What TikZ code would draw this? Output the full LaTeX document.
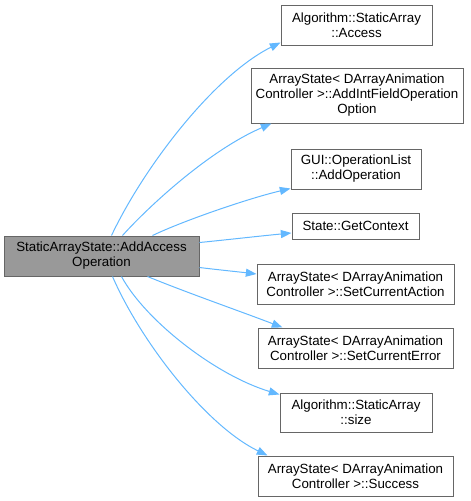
\documentclass[tikz,border=0pt]{standalone}
\usepackage{fontspec}
\setmainfont{Liberation Sans}
\usetikzlibrary{arrows.meta,calc}
\definecolor{edgeblue}{HTML}{63B8FF}
\definecolor{boxgray}{HTML}{666666}
\definecolor{mainfill}{HTML}{999999}
\begin{document}
\begin{tikzpicture}[x=0.75pt,y=-0.75pt,
  box/.style={draw=boxgray,fill=white,line width=0.75pt,align=center,inner sep=0pt,
    font=\fontsize{10}{11.25}\selectfont,text=black},
  mainbox/.style={box,fill=mainfill},
  edge/.style={draw=edgeblue,line width=0.75pt,-{Triangle[length=8pt,width=6pt]}}]
\useasboundingbox (0,0) rectangle (471,501);
\node[mainbox,minimum width=195*0.75pt,minimum height=40*0.75pt] (main) at (101.5,256) {StaticArrayState::AddAccess\\Operation};
\node[box,minimum width=151*0.75pt,minimum height=40*0.75pt] (b1) at (356.5,25) {Algorithm::StaticArray\\::Access};
\node[box,minimum width=212*0.75pt,minimum height=55*0.75pt] (b2) at (357,95.5) {ArrayState< DArrayAnimation\\Controller >::AddIntFieldOperation\\Option};
\node[box,minimum width=130*0.75pt,minimum height=40*0.75pt] (b3) at (356,169) {GUI::OperationList\\::AddOperation};
\node[box,minimum width=127*0.75pt,minimum height=26*0.75pt] (b4) at (355.5,226) {State::GetContext};
\node[box,minimum width=197*0.75pt,minimum height=40*0.75pt] (b5) at (355.5,284) {ArrayState< DArrayAnimation\\Controller >::SetCurrentAction};
\node[box,minimum width=195*0.75pt,minimum height=40*0.75pt] (b6) at (355.5,348) {ArrayState< DArrayAnimation\\Controller >::SetCurrentError};
\node[box,minimum width=152*0.75pt,minimum height=39*0.75pt] (b7) at (356,412.5) {Algorithm::StaticArray\\::size};
\node[box,minimum width=195*0.75pt,minimum height=40*0.75pt] (b8) at (355.5,476) {ArrayState< DArrayAnimation\\Controller >::Success};

\draw[edge] ($(main.north west)+(108,0)$) .. controls (145,165) and (215,75) .. ($(b1.south west)+(0,-3)$);
\draw[edge] ($(main.north west)+(119,0)$) .. controls (150,205) and (210,150) .. ($(b2.south west)+(21,0)$);
\draw[edge] ($(main.north west)+(149,0)$) .. controls (185,220) and (250,198) .. ($(b3.south west)+(0,-1)$);
\draw[edge] ($(main.north east)+(0,7)$) .. controls (225,240) and (260,236) .. ($(b4.west)+(0,7)$);
\draw[edge] ($(main.north east)+(0,32)$) .. controls (220,270) and (240,272) .. ($(b5.west)+(0,-10)$);
\draw[edge] ($(main.south west)+(144,0)$) .. controls (185,292) and (245,313) .. ($(b6.north west)+(25,0)$);
\draw[edge] ($(main.south west)+(118,0)$) .. controls (145,320) and (215,375) .. ($(b7.north west)+(0,2)$);
\draw[edge] ($(main.south west)+(109,0)$) .. controls (140,340) and (205,425) .. ($(b8.north west)+(10,0)$);
\end{tikzpicture}
\end{document}
